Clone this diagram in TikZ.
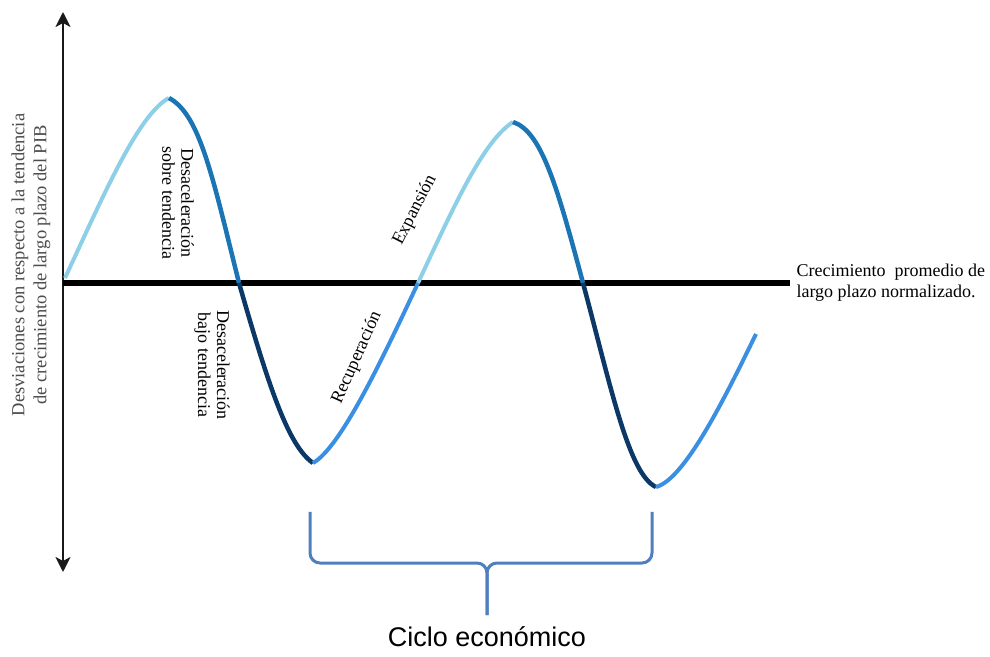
\documentclass[tikz,border=0pt]{standalone}
\usepackage{fontspec}
\setmainfont{Liberation Serif}
\newfontfamily\sansciclo{Liberation Sans}
\usetikzlibrary{arrows.meta}
\definecolor{azulclaro}{HTML}{8CCFE6}
\definecolor{azulmedio}{HTML}{1B75B5}
\definecolor{azuloscuro}{HTML}{0B3866}
\definecolor{azulrecup}{HTML}{3B8FE3}
\definecolor{azulllave}{HTML}{4F7FBF}
\tikzset{
    ejes/.style = {line width=2.5pt,draw=black!90,{Stealth[length=15pt,width=15pt,inset=4pt]}-{Stealth[length=15pt,width=15pt,inset=4pt]}},
    tendencia/.style = {line width=5.5pt,draw=black},
    tramoc/.style = {line width=4pt,draw=azulclaro},  % expansion
    tramom/.style = {line width=4.5pt,draw=azulmedio}, % sobre tendencia
    tramod/.style = {line width=4.5pt,draw=azuloscuro}, % bajo tendencia
    tramor/.style = {line width=4pt,draw=azulrecup},  % recuperacion
    llave/.style = {line width=3pt,draw=azulllave,rounded corners=10pt},
    fase/.style = {align=center,font=\fontsize{18}{19}\selectfont},
    nota/.style = {align=left,font=\fontsize{18}{21}\selectfont}
}
\begin{document}
\begin{tikzpicture}[x=1pt,y=1pt]
  \useasboundingbox (0,0) rectangle (990,656);
  % ejes
  \coordinate (ejesup) at (63,644);
  \coordinate (ejeinf) at (63,84);
  \coordinate (origen) at (63,373);
  \coordinate (fintend) at (790,373);
  % puntos del ciclo
  \coordinate (ini) at (65,378);
  \coordinate (cima1) at (169,558);
  \coordinate (cruce1) at (239,373);
  \coordinate (valle1) at (313,193);
  \coordinate (cruce2) at (418,373);
  \coordinate (cima2) at (513,534);
  \coordinate (cruce3) at (583,373);
  \coordinate (valle2) at (656,169);
  \coordinate (fin) at (756,322);
  % llave
  \coordinate (llaveiz) at (310,144);
  \coordinate (llaveder) at (652,144);
  \coordinate (llavemed) at (487,93);
  \coordinate (llavepunta) at (487,41);

  \draw[ejes] (ejeinf) -- (ejesup);
  \draw[tendencia] (origen) -- (fintend);

  \draw[tramoc] (ini) .. controls +(65:90) and +(208:35) .. (cima1);
  \draw[tramom] (cima1) .. controls +(-28:35) and +(104:110) .. (cruce1);
  \draw[tramod] (cruce1) .. controls +(-74:110) and +(145:30) .. (valle1);
  \draw[tramor] (valle1) .. controls +(30:30) and +(245:100) .. (cruce2);
  \draw[tramoc] (cruce2) .. controls +(65:90) and +(213:35) .. (cima2);
  \draw[tramom] (cima2) .. controls +(-18:30) and +(105:100) .. (cruce3);
  \draw[tramod] (cruce3) .. controls +(-75:110) and +(155:30) .. (valle2);
  \draw[tramor] (valle2) .. controls +(15:30) and +(244:70) .. (fin);

  \draw[llave] (llaveiz) |- (llavemed) -- (llavepunta);
  \draw[llave] (llaveder) |- (llavemed) -- (llavepunta);

  \node[fase,rotate=90,text=black!70,font=\fontsize{18.5}{22}\selectfont] (desv) at (31,391)
    {Desviaciones con respecto a la tendencia\\de crecimiento de largo plazo del PIB};
  \node[fase,rotate=-90] (dsobre) at (178,453) {Desaceleración\\sobre tendencia};
  \node[fase,rotate=-90] (dbajo) at (212,291) {Desaceleración\\bajo tendencia};
  \node[fase,rotate=66] (recup) at (357,298) {Recuperación};
  \node[fase,rotate=63] (expan) at (415,446) {Expansión};
  \node[nota,anchor=west] (crec) at (793,373) {Crecimiento\ \ promedio de\\largo plazo normalizado.};
  \node[font=\sansciclo\fontsize{27}{30}\selectfont] (ciclo) at (487,19) {Ciclo económico};
\end{tikzpicture}
\end{document}
